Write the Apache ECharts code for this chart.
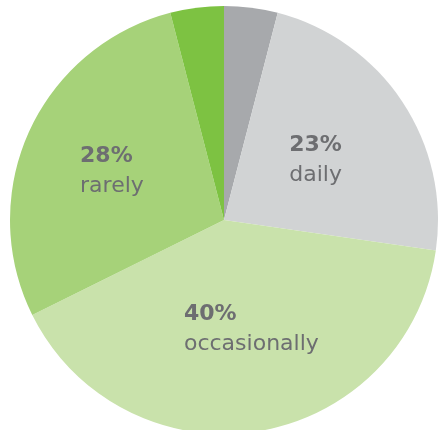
<!DOCTYPE html>
<html>
<head>
<meta charset="utf-8">
<script src="https://cdn.jsdelivr.net/npm/echarts@6/dist/echarts.min.js"></script>
<style>
  html, body { margin: 0; padding: 0; background: #fff; }
  #chart { width: 441px; height: 430px; }
</style>
</head>
<body>
<div id="chart"></div>
<script>
const categories = ['', 'daily', 'occasionally', 'rarely', '']
const values = [4, 23, 40, 28, 4]
const showLabel = [false, true, true, true, false]

// styling only
const colors = ['#a7a9ac', '#d1d3d4', '#c9e2ab', '#a6d279', '#7dc242']
const labelOffsets = [[0, 0], [0, 1], [10, 1], [-12, -3], [0, 0]]

const chart = echarts.init(document.getElementById('chart'), null, { renderer: 'canvas' })

const textStyle = { fontFamily: 'DejaVu Sans', fontSize: 22, color: '#6d6e71', align: 'left' }

chart.setOption({
  animation: false,
  series: [{
    type: 'pie',
    center: [224, 220],
    radius: 214,
    startAngle: 90,
    clockwise: true,
    silent: true,
    label: {
      position: 'inside',
      formatter: p => `{p|${p.value}%}\n{n|${p.name}}`,
      rich: {
        p: { ...textStyle, fontWeight: 'bold', lineHeight: 30 },
        n: { ...textStyle, lineHeight: 30 },
      },
    },
    labelLine: { show: false },
    data: values.map((v, i) => ({
      value: v,
      name: categories[i],
      itemStyle: { color: colors[i] },
      label: { show: showLabel[i], offset: labelOffsets[i] },
    })),
  }],
})
</script>
</body>
</html>
